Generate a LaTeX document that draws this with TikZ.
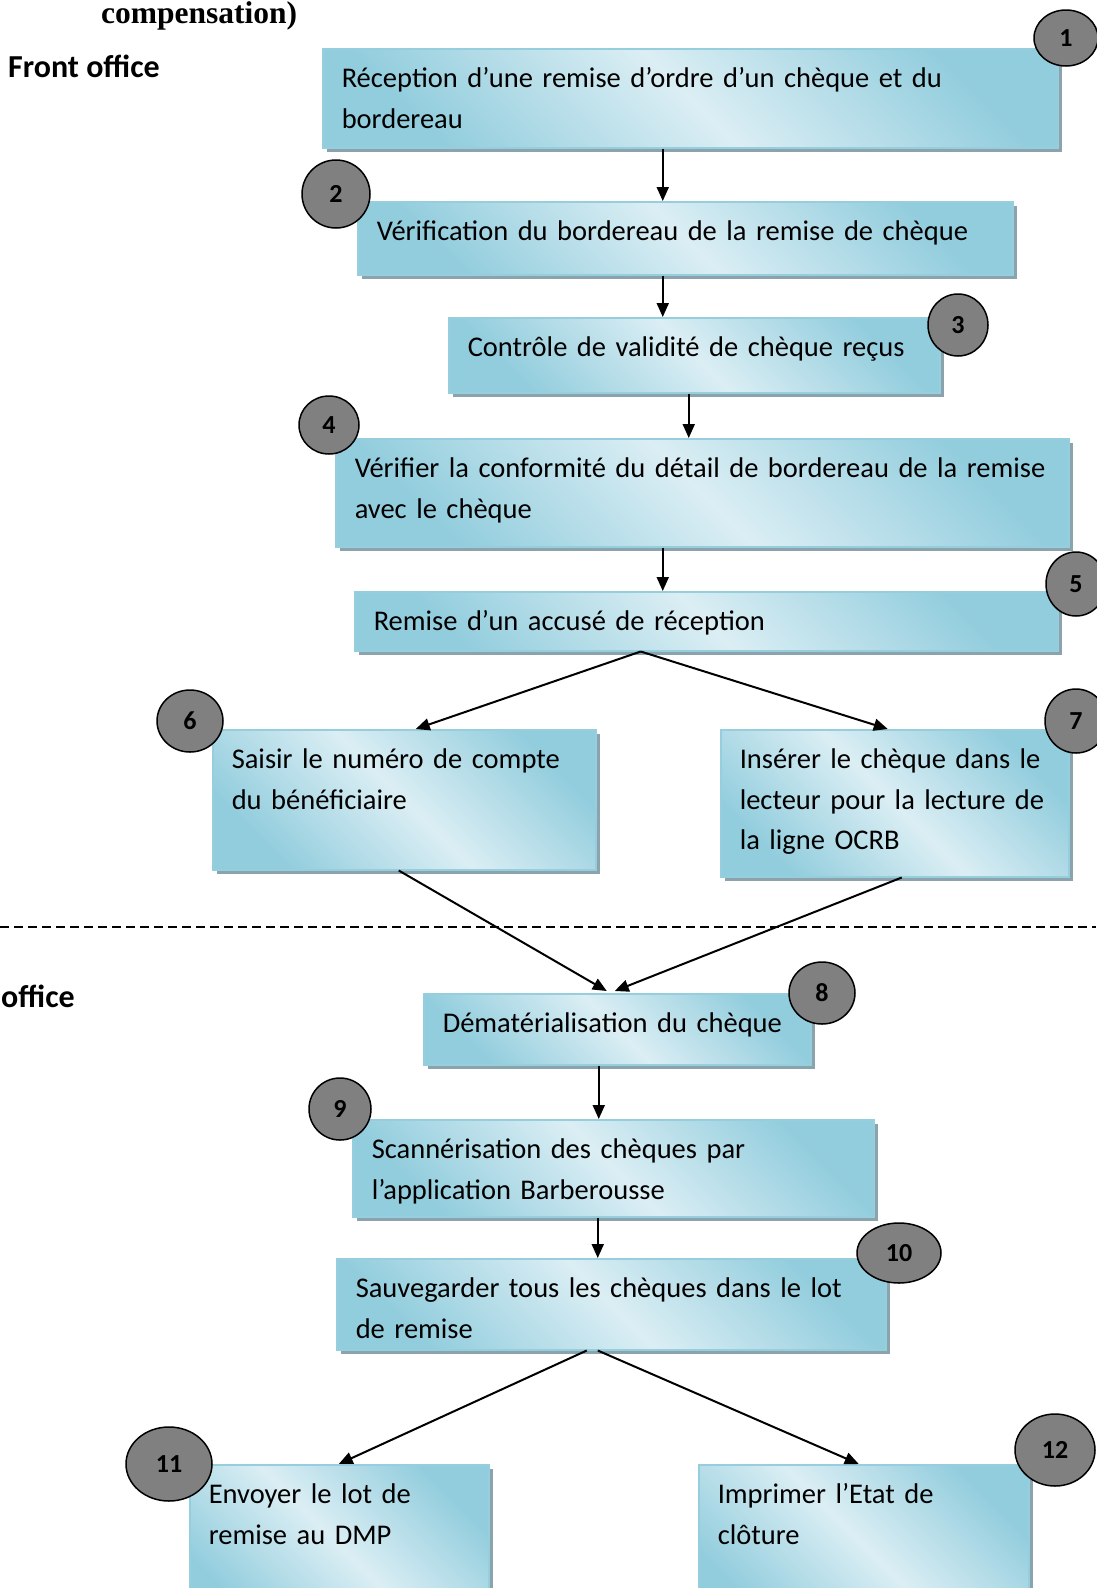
\documentclass[tikz,border=0pt]{standalone}
\usepackage{fontspec}
\setmainfont{Carlito}
\newfontfamily\titlefont{Liberation Serif}
\usetikzlibrary{arrows.meta,shapes.geometric,shadows}

\definecolor{boxdark}{RGB}{146,205,221}
\definecolor{boxlight}{RGB}{219,238,244}
\definecolor{boxedge}{RGB}{150,206,222}
\definecolor{shadowblue}{RGB}{138,163,173}
\definecolor{dotgray}{RGB}{128,128,128}

\tikzset{
  stepbox/.style 2 args={anchor=north west, draw=boxedge, line width=1.5pt,
    top color=boxdark, bottom color=boxdark, middle color=boxlight, shading angle=-45,
    drop shadow={shadow xshift=4pt, shadow yshift=-4pt, fill=shadowblue, opacity=1},
    inner xsep=19pt, inner ysep=0pt, align=left,
    text width=#1, text height=39pt, text depth=#2,
    font=\fontsize{28.5}{40.5}\selectfont},
  numdot/.style={ellipse, draw=black, line width=1.5pt, fill=dotgray, inner sep=0pt,
    font=\fontsize{26}{26}\selectfont\bfseries},
  flow/.style={-{Triangle[length=14pt,width=12pt]}, line width=2pt},
}

\begin{document}
\begin{tikzpicture}[x=1pt, y=-1pt]
      \useasboundingbox (0,0) rectangle (1096,1588);

      % Headings
      \node[font=\titlefont\bfseries\fontsize{31.5}{31.5}\selectfont, anchor=base west, inner sep=0pt] (title) at (101,23) {compensation)};
      \node[font=\bfseries\fontsize{32}{32}\selectfont, anchor=base west, inner sep=0pt] (front) at (8,77) {Front office};
      \node[font=\bfseries\fontsize{32}{32}\selectfont, anchor=base west, inner sep=0pt] (back) at (1,1007) {office};

      % Separation front / back office
      \coordinate (sepL) at (0,927);
      \coordinate (sepR) at (1096,927);
      \draw[line width=1.5pt, dash pattern=on 9pt off 5pt] (sepL) -- (sepR);

      % Steps
      \node[stepbox={697pt}{60pt}] (b1) at (322,48) {Réception d’une remise d’ordre d’un chèque et du\\bordereau};
      \node[stepbox={617pt}{34pt}] (b2) at (357,201) {Vérification du bordereau de la remise de chèque};
      \node[stepbox={453pt}{36pt}] (b3) at (448,317) {Contrôle de validité de chèque reçus};
      \node[stepbox={695pt}{69pt}] (b4) at (335,438) {Vérifier la conformité du détail de bordereau de la remise\\avec le chèque};
      \node[stepbox={665pt}{20pt}] (b5) at (354,591) {Remise d’un accusé de réception};
      \node[stepbox={345pt}{101pt}] (b6) at (212,729) {Saisir le numéro de compte\\du bénéficiaire};
      \node[stepbox={310pt}{108pt}] (b7) at (720,729) {Insérer le chèque dans le\\lecteur pour la lecture de\\la ligne OCRB};
      \node[stepbox={349pt}{32pt}] (b8) at (423,993) {Dématérialisation du chèque};
      \node[stepbox={483pt}{58pt}] (b9) at (352,1119) {Scannérisation des chèques par\\l’application Barberousse};
      \node[stepbox={511pt}{52pt}] (b10) at (336,1258) {Sauvegarder tous les chèques dans le lot\\de remise};
      \node[stepbox={261pt}{121pt}] (b11) at (189,1464) {Envoyer le lot de\\remise au DMP};
      \node[stepbox={292pt}{121pt}] (b12) at (698,1464) {Imprimer l’Etat de\\clôture};

      % Arrows between steps
      \draw[flow] ([xshift=-27.5pt]b1.south) -- ([xshift=-27.5pt]b1.south |- b2.north);
      \draw[flow] ([xshift=-22.5pt]b2.south) -- ([xshift=-22.5pt]b2.south |- b3.north);
      \draw[flow] ([xshift=-5.5pt]b3.south) -- ([xshift=-5.5pt]b3.south |- b4.north);
      \draw[flow] ([xshift=-39.5pt]b4.south) -- ([xshift=-39.5pt]b4.south |- b5.north);
      \draw[flow] ([xshift=-65.5pt]b5.south) -- ([xshift=11.5pt]b6.north);
      \draw[flow] ([xshift=-65.5pt]b5.south) -- ([xshift=-7pt]b7.north);
      \draw[flow] ([xshift=-5.5pt]b6.south) -- ([xshift=-10.5pt,yshift=2pt]b8.north);
      \draw[flow] ([xshift=7pt]b7.south) -- ([xshift=-2.5pt,yshift=2pt]b8.north);
      \draw[flow] ([xshift=-18.5pt]b8.south) -- ([xshift=-18.5pt]b8.south |- b9.north);
      \draw[flow] ([xshift=-15.5pt]b9.south) -- ([xshift=-15.5pt]b9.south |- b10.north);
      \draw[flow] ([xshift=-24.5pt]b10.south) -- ([xshift=-0.5pt]b11.north);
      \draw[flow] ([xshift=-13.5pt]b10.south) -- ([xshift=-5pt]b12.north);

      % Step numbers
      \foreach \n/\x/\y/\rx/\ry in {1/1066/38/32/28, 2/336/194/34/34, 3/958/325/30/31,
          4/329/425/30/29, 5/1076/584/30/32, 6/190/721/33/31, 7/1076/721/31/32,
          8/822/993/33/31, 9/340/1109/31/31, 10/899/1253/42/30, 11/169/1464/43/37,
          12/1055/1450/40/36} {
          \node[numdot, minimum width=2*\rx, minimum height=2*\ry] (n\n) at (\x,\y) {\n};
      }

\end{tikzpicture}
\end{document}
